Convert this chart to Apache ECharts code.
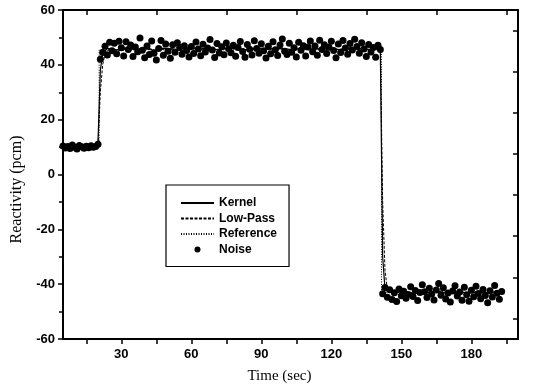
<!DOCTYPE html>
<html>
<head>
<meta charset="utf-8">
<script src="https://cdn.jsdelivr.net/npm/echarts@6/dist/echarts.min.js"></script>
<style>html,body{margin:0;padding:0;background:#fff}#c{width:537px;height:389px}</style>
</head>
<body>
<div id="c"></div>
<script>
// ---- data ----
var noiseT = [5,6,7,8,9,10,11,12,13,14,15,16,17,18,19,20,
21,22,23,24,25,26,27,28,29,30,31,32,33,34,35,36,37,38,39,40,41,42,43,44,45,46,47,48,49,50,
51,52,53,54,55,56,57,58,59,60,61,62,63,64,65,66,67,68,69,70,71,72,73,74,75,76,77,78,79,80,
81,82,83,84,85,86,87,88,89,90,91,92,93,94,95,96,97,98,99,100,101,102,103,104,105,106,107,108,109,110,
111,112,113,114,115,116,117,118,119,120,121,122,123,124,125,126,127,128,129,130,131,132,133,134,135,136,137,138,139,140,141,
142,143,144,145,146,147,148,149,150,151,152,153,154,155,156,157,158,159,160,161,162,163,164,165,166,167,168,169,170,
171,172,173,174,175,176,177,178,179,180,181,182,183,184,185,186,187,188,189,190,191,192,193];
var noiseY = [10.4,9.7,10.2,9.5,10.8,9.9,9.3,10.6,10.1,9.6,10.3,9.8,10.5,9.9,10.2,11.0,
42.0,44.5,46.8,43.6,48.2,45.1,47.9,44.0,48.6,46.2,43.2,48.4,45.6,47.2,43.0,46.5,44.8,49.8,45.3,42.6,46.9,43.8,48.7,44.2,41.8,46.0,48.9,43.5,47.6,45.0,
42.4,47.3,44.6,48.1,46.4,43.9,47.0,45.2,42.9,46.7,44.1,48.3,45.8,43.3,47.5,44.7,46.1,49.2,45.4,42.7,47.8,44.3,46.6,43.7,48.0,45.9,44.4,47.1,43.1,46.3,
48.5,44.9,42.8,47.4,45.7,43.6,48.8,46.0,44.2,47.7,45.1,42.5,46.8,44.0,48.4,45.5,43.4,47.2,49.4,45.0,43.8,47.9,44.6,46.2,42.9,48.2,45.3,47.0,43.2,46.5,
48.7,44.8,46.9,43.5,49.0,45.6,47.3,44.1,46.4,48.6,45.2,42.6,47.6,44.5,48.9,46.1,43.9,47.8,45.4,49.3,46.7,44.2,48.1,45.8,43.0,47.4,44.7,46.3,42.8,47.1,45.6,
-43.5,-41.2,-44.8,-42.0,-45.6,-43.1,-46.3,-41.8,-44.2,-42.6,-45.1,-43.8,-40.9,-44.5,-42.3,-46.0,-43.0,-40.2,-42.8,-44.9,-41.5,-43.6,-45.8,-42.1,-39.8,-44.0,-41.3,-45.4,-43.2,
-46.5,-42.5,-40.6,-44.3,-42.9,-45.9,-41.1,-43.9,-46.2,-42.2,-44.6,-40.8,-43.4,-45.3,-41.9,-44.1,-46.8,-42.4,-44.7,-40.5,-43.3,-45.5,-42.7];

var kernelT = [5,10,15,19,20,21,22,24,28,32,36,40,44,48,52,56,60,64,68,72,76,80,84,88,92,96,100,104,108,112,116,120,124,128,132,136,140,141,142,143,146,150,154,158,162,166,170,174,178,182,186,190,193];
var kernelY = [10,10.1,10,10.2,12,38,44,46,45.5,46.2,45.6,46.0,45.3,46.1,45.8,45.2,46.3,45.7,45.9,45.4,46.2,45.8,45.5,46.0,45.6,46.1,45.9,45.4,46.3,45.7,45.8,46.0,45.5,46.2,45.9,45.6,45.8,45.0,-30,-42,-43.2,-42.7,-43.3,-42.9,-43.1,-42.6,-43.4,-42.8,-43.2,-42.9,-43.3,-42.8,-43.0];

var lowT = [5,10,15,20,21,22,23,25,29,33,37,41,45,49,53,57,61,65,69,73,77,81,85,89,93,97,101,105,109,113,117,121,125,129,133,137,141,142,143,144,147,151,155,159,163,167,171,175,179,183,187,191,193];
var lowY = [10,9.9,10.1,10.3,30,40,44,46,45.2,46.0,45.4,46.3,45.1,45.9,45.6,46.2,45.3,46.0,45.5,45.8,46.1,45.4,45.7,46.2,45.5,45.9,45.3,46.1,45.6,45.8,46.0,45.4,45.9,46.2,45.5,45.8,46.0,-10,-35,-42,-43.4,-42.5,-43.5,-42.8,-43.2,-42.4,-43.6,-42.7,-43.3,-42.6,-43.4,-42.9,-43.1];

var refT = [5,20.5,20.5,141.5,141.5,193];
var refY = [10,10,45.5,45.5,-43,-43];

var xLabelVals = [30,60,90,120,150,180];
var xTickVals = [15,30,45,60,75,90,105,120,135,150,165,180,195];
var xTopTickVals = [15,45,75,105,135,165,195];
var yRightTickVals = [-52.5,-37.5,-22.5,-7.5,7.5,22.5,37.5,52.5];

function zip(a,b){var r=[];for(var i=0;i<a.length;i++)r.push([a[i],b[i]]);return r;}

var chart = echarts.init(document.getElementById('c'), null, {renderer:'canvas'});
var tickFont = {color:'#000', fontFamily:'Liberation Sans, Arial', fontWeight:'bold', fontSize:13};
var hideSym = {color:'rgba(0,0,0,0)', borderWidth:0, opacity:0};
chart.setOption({
  animation:false,
  backgroundColor:'#fff',
  grid:{left:63, right:19, top:10, bottom:47},
  legend:{
    left:166, top:185, orient:'vertical',
    backgroundColor:'#fff', borderColor:'#000', borderWidth:1.2, borderRadius:0,
    padding:[12,12,11,14], itemGap:3.5, itemWidth:33, itemHeight:6,
    textStyle:{color:'#000', fontFamily:'Liberation Sans, Arial', fontWeight:'bold', fontSize:12},
    data:[{name:'Kernel', itemStyle:hideSym},{name:'Low-Pass', itemStyle:hideSym},{name:'Reference', itemStyle:hideSym},{name:'Noise', icon:'circle'}]
  },
  xAxis:[{
    type:'value', position:'bottom', min:5, max:200,
    name:'Time (sec)', nameLocation:'middle', nameGap:30,
    nameTextStyle:{color:'#000', fontFamily:'Liberation Serif, Times New Roman', fontSize:15, padding:[0,22,0,0]},
    axisLine:{show:true, onZero:false, lineStyle:{color:'#000', width:2}},
    axisTick:{show:true, inside:false, length:5, customValues:xTickVals, lineStyle:{color:'#000', width:1.5}},
    axisLabel:Object.assign({margin:9, customValues:xLabelVals}, tickFont),
    splitLine:{show:false}
  },{
    type:'value', position:'top', min:5, max:200,
    axisLine:{show:true, onZero:false, lineStyle:{color:'#000', width:2}},
    axisTick:{show:true, inside:true, length:5, customValues:xTopTickVals, lineStyle:{color:'#000', width:1.5}},
    axisLabel:{show:false}, splitLine:{show:false}
  }],
  yAxis:[{
    type:'value', position:'left', min:-60, max:60, interval:20,
    name:'Reactivity (pcm)', nameLocation:'middle', nameGap:38,
    nameTextStyle:{color:'#000', fontFamily:'Liberation Serif, Times New Roman', fontSize:16, padding:[0,30,0,0]},
    axisLine:{show:true, onZero:false, lineStyle:{color:'#000', width:2}},
    axisTick:{show:true, inside:false, length:5, lineStyle:{color:'#000', width:1.5}},
    minorTick:{show:true, splitNumber:2, length:4, lineStyle:{color:'#000', width:1.5}},
    axisLabel:Object.assign({margin:8}, tickFont),
    splitLine:{show:false}
  },{
    type:'value', position:'right', min:-60, max:60,
    axisLine:{show:true, onZero:false, lineStyle:{color:'#000', width:2}},
    axisTick:{show:true, inside:true, length:5, customValues:yRightTickVals, lineStyle:{color:'#000', width:1.5}},
    axisLabel:{show:false}, splitLine:{show:false}
  }],
  series:[
    {name:'Kernel', type:'line', xAxisIndex:0, yAxisIndex:0, symbol:'none', data:zip(kernelT,kernelY),
     lineStyle:{color:'#000', width:1.2, type:'solid'}, itemStyle:{color:'#000'}, z:3},
    {name:'Low-Pass', type:'line', xAxisIndex:0, yAxisIndex:0, symbol:'none', data:zip(lowT,lowY),
     lineStyle:{color:'#000', width:1, type:[3,1.5]}, itemStyle:{color:'#000'}, z:3},
    {name:'Reference', type:'line', xAxisIndex:0, yAxisIndex:0, symbol:'none', data:zip(refT,refY),
     lineStyle:{color:'#000', width:1, type:[1,1.5]}, itemStyle:{color:'#000'}, z:3},
    {name:'Noise', type:'scatter', xAxisIndex:0, yAxisIndex:0, symbol:'circle', symbolSize:7, data:zip(noiseT,noiseY),
     itemStyle:{color:'#000', opacity:1}, z:4}
  ]
});
</script>
</body>
</html>
